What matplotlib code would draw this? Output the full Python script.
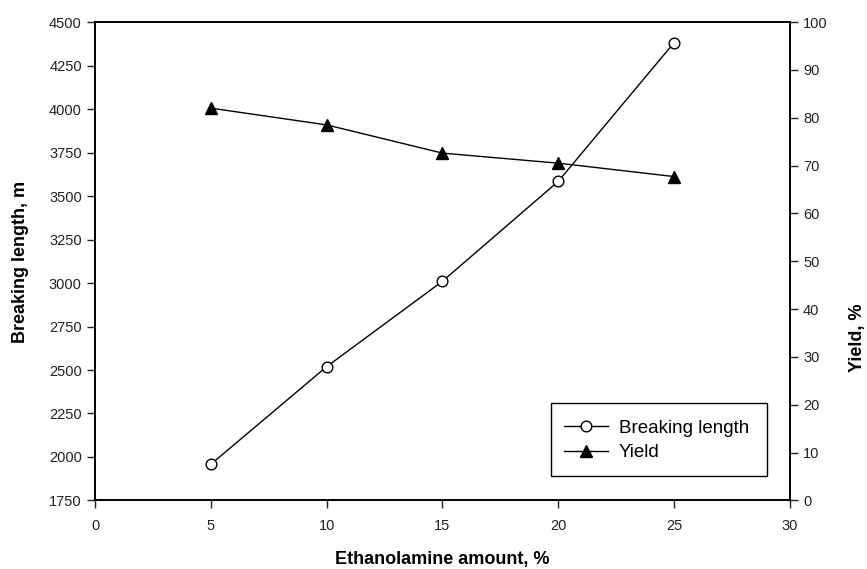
import matplotlib
matplotlib.use("Agg")
import matplotlib.pyplot as plt
from matplotlib.patches import Rectangle

plt.rcParams['font.family'] = ['Liberation Sans', 'DejaVu Sans']

ethanolamine = [5, 10, 15, 20, 25]
breaking_length = [1958, 2519, 3010, 3584, 4381]
yield_pct = [82.0, 78.5, 72.6, 70.5, 67.7]

x_ticks = [0, 5, 10, 15, 20, 25, 30]
left_ticks = [1750, 2000, 2250, 2500, 2750, 3000, 3250, 3500, 3750, 4000, 4250, 4500]
right_ticks = [0, 10, 20, 30, 40, 50, 60, 70, 80, 90, 100]

fig = plt.figure(figsize=(8.67, 5.69), dpi=100)
ax = fig.add_axes([0.1096, 0.1204, 0.8014, 0.8409])
ax2 = ax.twinx()

l1, = ax.plot(ethanolamine, breaking_length, color='black', lw=1.0, marker='o',
              markersize=7.7, markerfacecolor='white', markeredgecolor='black',
              markeredgewidth=1.0, label='Breaking length')
l2, = ax2.plot(ethanolamine, yield_pct, color='black', lw=1.0, marker='^',
               markersize=8.5, markerfacecolor='black', markeredgecolor='black',
               label='Yield')

ax.set_xlim(0, 30)
ax.set_ylim(1750, 4500)
ax2.set_ylim(0, 100)
ax.set_xticks(x_ticks)
ax.set_yticks(left_ticks)
ax2.set_yticks(right_ticks)

for a in (ax, ax2):
    a.tick_params(direction='out', length=6, width=1.0, labelsize=10.5, colors='#222222')
    for s in a.spines.values():
        s.set_linewidth(1.2)
ax.tick_params(axis='x', pad=7)

fig.text(0.5104, 0.0088, 'Ethanolamine amount, %', fontsize=13, fontweight='bold',
         ha='center', va='baseline')
fig.text(0.0235, 0.5395, 'Breaking length, m', rotation=90, fontsize=13,
         fontweight='bold', ha='center', va='center')
fig.text(0.9896, 0.406, 'Yield, %', rotation=90, fontsize=13, fontweight='bold',
         ha='center', va='center')

# legend frame
rect = Rectangle((0.6557, 0.0518), 0.311, 0.1526, transform=ax.transAxes,
                 fill=True, facecolor='white', edgecolor='black', lw=1.0, zorder=5)
ax2.add_patch(rect)
leg = ax2.legend(handles=[l1, l2], loc='upper left', bbox_to_anchor=(0.6557, 0.197),
                 bbox_transform=ax.transAxes, frameon=False, fontsize=13.5,
                 handlelength=2.35, handletextpad=0.59, labelspacing=0.4,
                 borderpad=0.71, borderaxespad=0)
leg.set_zorder(6)

fig.savefig('out.png', dpi=100)
